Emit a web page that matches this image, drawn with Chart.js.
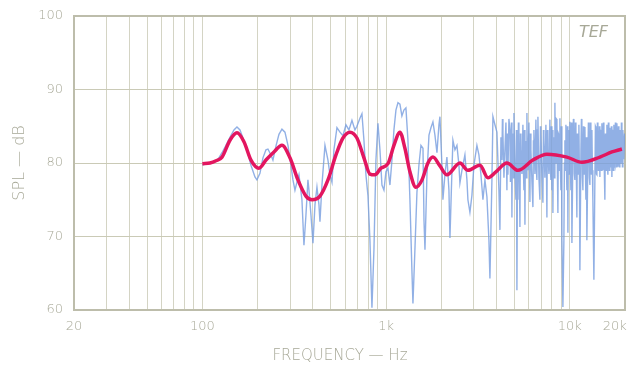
<!DOCTYPE html>
<html>
<head>
<meta charset="utf-8">
<script src="https://cdn.jsdelivr.net/npm/chart.js@4.4.1/dist/chart.umd.min.js"></script>
<style>
  html, body { margin: 0; padding: 0; background: #fff; }
  canvas { display: block; }
</style>
</head>
<body>
<canvas id="splChart" width="633" height="367"></canvas>
<script>
// grid lines on the log frequency axis
const gridFreqs = [20, 30, 40, 50, 60, 70, 80, 90, 100, 200, 300, 400, 500, 600, 700, 800, 900,
  1000, 2000, 3000, 4000, 5000, 6000, 7000, 8000, 9000, 10000, 20000];
const labelFreqs = [20, 100, 1000, 10000, 20000];
const labelTexts = ["20", "100", "1k", "10k", "20k\u00a0\u00a0\u00a0\u00a0\u00a0"];
const splTicks = [60, 70, 80, 90, 100];

// measured response (blue)
const rawFreq = [100, 104.6, 110, 115.7, 121.6, 127.9, 134.4, 141.3, 148.6, 154.3, 160.2, 166.3, 174.9,
  183.9, 193.3, 198.2, 205.8, 213.7, 221.9, 227.5, 236.2, 242.2, 251.5, 261.2, 271.2, 281.6, 292.4,
  303.6, 311.3, 319.2, 327.3, 335.6, 348.4, 357.3, 366.3, 375.6, 380.5, 390.2, 400.1, 410.2, 420.6,
  431.3, 436.7, 447.8, 465, 482.8, 495, 507.6, 520.4, 540.4, 561.1, 582.6, 604.9, 628.1, 652.2, 677.1,
  694.3, 720.9, 739.2, 758, 777.2, 797, 817.2, 838, 859.2, 881, 903.4, 926.4, 949.9, 974, 998.7, 1024,
  1050, 1077, 1104, 1132, 1161, 1190, 1220, 1251, 1283, 1316, 1349, 1383, 1401, 1436, 1473, 1510, 1549,
  1589, 1609, 1629, 1670, 1713, 1756, 1800, 1846, 1893, 1941, 1965, 2015, 2040, 2092, 2145, 2200, 2228,
  2285, 2313, 2372, 2432, 2494, 2525, 2589, 2688, 2757, 2791, 2862, 2935, 3009, 3124, 3204, 3286, 3369,
  3455, 3542, 3632, 3678, 3771, 3819, 3916, 4015, 4117,
  4169, 4222, 4275, 4302, 4329, 4384, 4439, 4495, 4551, 4580, 4609, 4667, 4726, 4756, 4786, 4816, 4846,
  4876, 4907, 4938, 4969, 5032, 5095, 5127, 5159, 5192, 5225, 5257, 5290, 5323, 5357, 5391, 5425, 5493,
  5562, 5597, 5632, 5668, 5704, 5740, 5775, 5811, 5848, 5885, 5922, 5997, 6072, 6110, 6149, 6227, 6305,
  6344, 6384, 6465, 6546, 6587, 6629, 6671, 6713, 6797, 6882, 6925, 6969, 7057, 7146, 7191, 7236, 7327,
  7419, 7466, 7513, 7560, 7608, 7704, 7801, 7850, 7899, 7949, 7999, 8049, 8100, 8151, 8202, 8254, 8306,
  8358, 8410, 8463, 8516, 8570, 8624, 8678, 8732, 8787, 8843, 8898, 8954, 9010, 9067, 9182, 9297, 9356,
  9415, 9474, 9534, 9594, 9654, 9715, 9776, 9837, 9899, 9962, 10025, 10090, 10150, 10215, 10280, 10410,
  10475, 10540, 10605, 10670, 10740, 10810, 10875, 10940, 11010, 11080, 11150, 11220, 11290, 11363,
  11510, 11580, 11650, 11725, 11800, 11875, 11950, 12025, 12100, 12175, 12250, 12325, 12400, 12560,
  12640, 12720, 12800, 12880, 12960, 13040, 13125, 13210, 13290, 13370, 13540, 13710, 13800, 13890,
  13975, 14060, 14150, 14240, 14330, 14420, 14510, 14600, 14690, 14780, 14875, 14970, 15065, 15160,
  15255, 15350, 15445, 15540, 15640, 15740, 15840, 15940, 16040, 16140, 16240, 16340, 16445, 16550,
  16655, 16760, 16865, 16970, 17075, 17180, 17290, 17400, 17510, 17620, 17730, 17840, 17955, 18070,
  18185, 18300, 18415, 18530, 18645, 18760, 18880, 19000, 19120, 19240, 19360, 19480, 19700, 19900];
const rawSpl = [79.7, 79.9, 80.0, 80.1, 80.5, 81.4, 82.4, 83.5, 84.5, 84.9, 84.5, 83.4, 81.8,
  79.7, 78.1, 77.7, 78.6, 80.7, 81.8, 81.9, 81.1, 80.4, 82.3, 83.9, 84.6, 84.2, 82.4,
  79.7, 77.7, 76.3, 77.4, 78.4, 75.0, 68.8, 72.9, 77.7, 76.3, 72.9, 69.1, 74.3, 76.7,
  74.3, 72.0, 77.0, 82.4, 80.4, 78.4, 77.4, 81.8, 84.8, 84.2, 83.7, 85.2, 84.5, 85.8, 84.5,
  85.0, 86.1, 86.7, 83.1, 78.4, 75.6, 69.5, 60.3, 68.2, 80.4, 85.4, 81.8, 77.0, 76.3, 78.8, 79.3,
  77.0, 80.4, 84.5, 87.2, 88.2, 88.0, 86.4, 87.2, 87.5, 83.1, 75.0, 65.4, 60.9, 68.2, 76.0, 79.7, 82.4,
  82.0, 72.2, 68.2, 78.4, 83.8, 84.8, 85.6, 83.8, 81.4, 85.2, 86.3, 79.7, 75.0, 78.4, 80.8, 76.3, 69.8,
  79.0, 83.1, 81.8, 82.4, 79.7, 77.3, 79.0, 81.1, 77.7, 75.0, 73.3, 75.6, 79.7, 82.4, 81.1, 78.4, 75.0,
  77.7, 75.4, 69.5, 64.3, 77.7, 86.3, 85.2, 84.2, 76.3,
  70.9, 83.5, 80.4, 86.0, 84.1, 78.0, 81.8, 85.5, 76.3, 84.0, 78.4, 86.0, 84.5, 77.5, 80.4, 85.5, 72.6,
  84.0, 80.4, 78.0, 86.8, 79.0, 75.0, 84.5, 62.7, 77.0, 75.0, 85.5, 83.1, 78.0, 71.3, 84.0, 81.8, 78.5,
  85.2, 79.0, 76.3, 84.5, 71.6, 83.0, 81.8, 78.0, 86.8, 80.0, 79.0, 85.5, 74.7, 84.0, 81.8, 77.5, 74.0,
  83.0, 84.5, 78.5, 85.9, 79.0, 77.7, 84.5, 86.3, 78.0, 75.0, 85.0, 83.8, 78.5, 74.6, 84.5, 83.1, 78.0,
  85.2, 79.5, 72.6, 84.5, 81.8, 78.5, 85.9, 79.0, 77.7, 85.0, 76.3, 84.5, 73.2, 83.5, 83.1, 78.0, 88.2,
  80.0, 80.4, 86.0, 85.9, 78.5, 73.2, 84.0, 83.8, 79.0, 86.1, 79.5, 76.3, 85.0, 69.5, 60.4, 69.5, 80.0,
  83.1, 79.0, 85.2, 79.5, 76.3, 85.0, 70.5, 84.5, 83.1, 78.5, 85.6, 79.0, 76.3, 85.5, 69.1, 81.8,
  86.0, 85.2, 78.5, 77.7, 85.5, 84.5, 78.0, 72.6, 84.0, 83.1, 78.5, 85.2, 79.0, 65.4,
  81.8, 86.0, 84.5, 78.0, 76.3, 85.0, 83.8, 78.5, 84.9, 79.0, 75.0, 83.5, 69.5, 80.4,
  85.5, 84.5, 78.0, 77.0, 85.5, 83.8, 78.5, 84.5, 79.0, 75.0, 64.1, 77.7, 85.0, 84.8,
  78.5, 78.4, 85.5, 84.5, 79.0, 80.4, 85.0, 78.1, 84.5, 83.8, 79.0, 85.4, 80.0, 79.0,
  85.5, 84.5, 78.5, 75.0, 84.0, 83.1, 79.0, 85.2, 80.0, 78.4, 85.5, 84.5, 79.0, 84.8,
  79.5, 79.7, 85.0, 78.1, 84.5, 83.8, 79.0, 85.2, 80.0, 79.7, 85.5, 84.5, 79.5, 85.4,
  80.0, 79.5, 85.0, 83.8, 79.5, 84.5, 80.0, 80.4, 85.5, 83.8, 79.5, 84.5, 80.5, 84.0];

// smoothed response (magenta)
const smoothFreq = [100, 110, 118.6, 127.9, 141.3, 154.3, 168.4, 183.9, 203.3, 221.9, 245.3, 271.2,
  299.8, 331.4, 366.3, 395.1, 436.7, 482.8, 533.7, 582.6, 636, 694.3, 758, 817.2, 870.1, 938.1, 1024,
  1104, 1190, 1267, 1349, 1454, 1569, 1691, 1800, 1965, 2145, 2525, 2791, 3245, 3587, 3965, 4551, 5225,
  6305, 7513, 9654, 11650, 14600, 16970, 19240];
const smoothSpl = [79.9, 80.0, 80.3, 80.8, 83.1, 84.1, 82.9, 80.4, 79.3, 80.4, 81.5, 82.4,
  80.7, 77.7, 75.5, 75.0, 75.5, 77.7, 81.1, 83.4, 84.2, 83.4, 80.7, 78.5, 78.4, 79.3, 79.9,
  82.4, 84.2, 82.0, 78.8, 76.7, 77.7, 80.0, 80.8, 79.6, 78.4, 80.0, 79.0, 79.7, 78.0, 78.8, 80.0, 79.0,
  80.4, 81.2, 80.8, 80.1, 80.8, 81.5, 81.9];

const inkColor = "#a7a897";

const framePlugin = {
  id: "frame",
  beforeDatasetsDraw(chart) {
    const { ctx, chartArea: a } = chart;
    ctx.save();
    ctx.strokeStyle = "#bdbdab";
    ctx.lineWidth = 2;
    ctx.strokeRect(a.left, a.top, a.right - a.left, a.bottom - a.top);
    ctx.restore();
  },
  afterDraw(chart) {
    const ctx = chart.ctx;
    ctx.save();
    ctx.fillStyle = inkColor;
    ctx.font = "italic 16px 'DejaVu Sans'";
    ctx.textAlign = "right";
    ctx.textBaseline = "alphabetic";
    ctx.fillText("TEF", 608, 37);
    ctx.restore();
  }
};

const ctx = document.getElementById("splChart").getContext("2d");

new Chart(ctx, {
  type: "line",
  data: {
    datasets: [
      {
        label: "smoothed",
        data: smoothFreq.map((f, i) => ({ x: f, y: smoothSpl[i] })),
        borderColor: "#e3165f",
        borderWidth: 3.5,
        pointRadius: 0,
        tension: 0.4,
        cubicInterpolationMode: "monotone",
        order: 0
      },
      {
        label: "measured",
        data: rawFreq.map((f, i) => ({ x: f, y: rawSpl[i] })),
        borderColor: "rgba(118, 156, 222, 0.8)",
        borderWidth: 1.4,
        pointRadius: 0,
        tension: 0,
        order: 1
      }
    ]
  },
  options: {
    responsive: false,
    animation: false,
    devicePixelRatio: 1,
    layout: { padding: { left: 0, right: 8, top: 16, bottom: 0 } },
    plugins: { legend: { display: false }, tooltip: { enabled: false } },
    scales: {
      x: {
        type: "logarithmic",
        min: 20,
        max: 20000,
        afterBuildTicks: (scale) => {
          scale.ticks = gridFreqs.map(v => ({ value: v }));
        },
        afterFit: (scale) => {
          scale.height = 57;
          scale.paddingLeft = 0;
          scale.paddingRight = 0;
        },
        ticks: {
          autoSkip: false,
          maxRotation: 0,
          padding: 9,
          color: inkColor,
          font: { family: "DejaVu Sans", size: 13, weight: "200" },
          callback: (value) => {
            const k = labelFreqs.indexOf(value);
            return k >= 0 ? labelTexts[k] : "";
          }
        },
        grid: { color: "#d4d4c4", lineWidth: 1, drawTicks: false },
        border: { display: false },
        title: {
          display: true,
          text: "FREQUENCY \u2014 Hz\u00a0\u00a0\u00a0\u00a0",
          color: inkColor,
          font: { family: "DejaVu Sans", size: 15, weight: "200" },
          padding: { top: 0, bottom: 2 }
        }
      },
      y: {
        min: 60,
        max: 100,
        afterBuildTicks: (scale) => {
          scale.ticks = splTicks.map(v => ({ value: v }));
        },
        afterFit: (scale) => {
          scale.width = 74;
          scale.paddingTop = 0;
          scale.paddingBottom = 0;
        },
        ticks: {
          padding: 11,
          color: inkColor,
          font: { family: "DejaVu Sans", size: 13, weight: "200" }
        },
        grid: { color: "#cacab6", lineWidth: 1, drawTicks: false },
        border: { display: false },
        title: {
          display: true,
          text: "SPL \u2014 dB",
          color: inkColor,
          font: { family: "DejaVu Sans", size: 16, weight: "200" },
          padding: { top: 10, bottom: 0 }
        }
      }
    }
  },
  plugins: [framePlugin]
});
</script>
</body>
</html>
